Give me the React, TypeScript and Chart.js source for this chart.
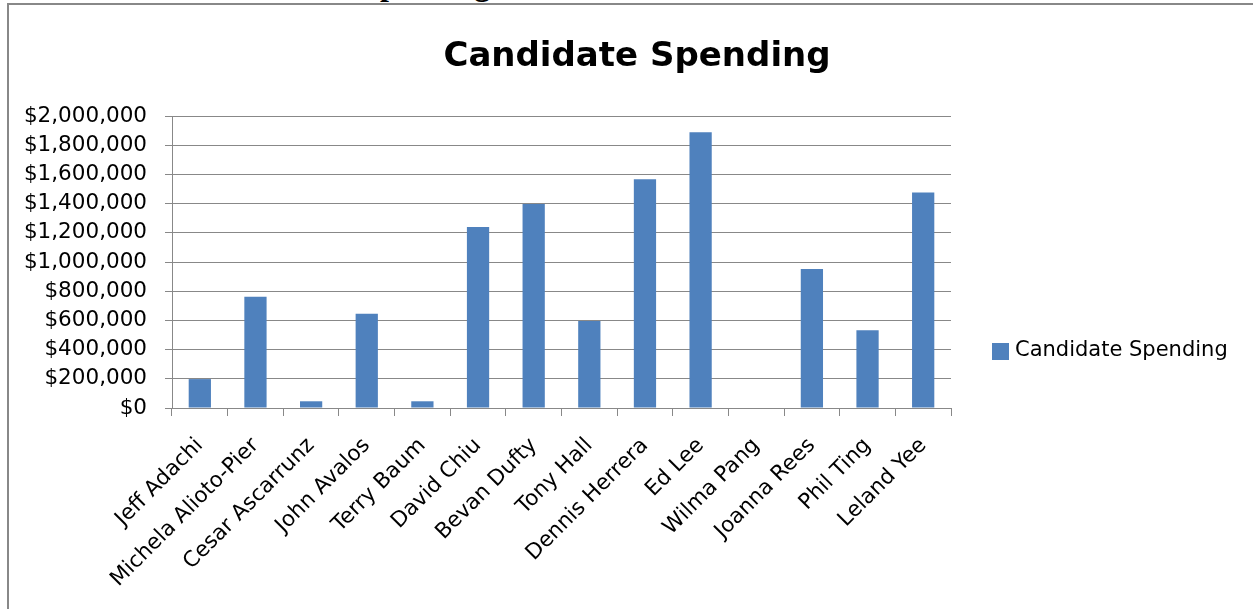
import { useEffect, useRef } from 'react';
import { Chart, registerables } from 'chart.js';

Chart.register(...registerables);

const candidates = [
  'Jeff Adachi',
  'Michela Alioto-Pier',
  'Cesar Ascarrunz',
  'John Avalos',
  'Terry Baum',
  'David Chiu',
  'Bevan Dufty',
  'Tony Hall',
  'Dennis Herrera',
  'Ed Lee',
  'Wilma Pang',
  'Joanna Rees',
  'Phil Ting',
  'Leland Yee',
];

const spending = [
  198000, 762000, 46000, 645000, 46000, 1240000, 1398000, 596000, 1566000, 1888000, 0, 952000,
  533000, 1476000,
];

const seriesLabel = 'Candidate Spending';
const chartTitle = 'Candidate Spending';
const pageHeading = 'Candidate Spending';
const yMin = 0;
const yMax = 2000000;
const yStep = 200000;

const FONT = '"DejaVu Sans", sans-serif';
const BAR_COLOR = '#4F81BD';
const GRID_COLOR = '#888888';

export default function App() {
  const canvasRef = useRef<HTMLCanvasElement>(null);

  useEffect(() => {
    const canvas = canvasRef.current;
    if (!canvas) return;

    const titleLegendPlugin = {
      id: 'titleLegend',
      afterDraw(chart: any) {
        const ctx = chart.ctx as CanvasRenderingContext2D;
        const area = chart.chartArea;
        ctx.save();
        // title
        ctx.fillStyle = '#000';
        ctx.font = `bold 34px ${FONT}`;
        ctx.textAlign = 'center';
        ctx.textBaseline = 'alphabetic';
        ctx.fillText(chartTitle, 637, area.top - 50);
        // legend
        const ds = chart.data.datasets[0];
        const lx = area.right + 41;
        const ly = 351;
        ctx.fillStyle = ds.backgroundColor;
        ctx.fillRect(lx, ly - 8, 17, 17);
        ctx.fillStyle = '#000';
        ctx.font = `21px ${FONT}`;
        ctx.textAlign = 'left';
        ctx.textBaseline = 'middle';
        ctx.fillText(ds.label, lx + 23, ly);
        ctx.restore();
      },
    };

    const chart = new Chart(canvas, {
      type: 'bar',
      data: {
        labels: candidates,
        datasets: [
          {
            label: seriesLabel,
            data: spending,
            backgroundColor: BAR_COLOR,
            borderWidth: 0,
            categoryPercentage: 1,
            barPercentage: 0.4,
          },
        ],
      },
      options: {
        animation: false,
        responsive: false,
        maintainAspectRatio: false,
        devicePixelRatio: 1,
        layout: { padding: { left: 0, top: 116, right: 302, bottom: 0 } },
        plugins: {
          legend: { display: false },
          title: { display: false },
          tooltip: { enabled: false },
        },
        scales: {
          x: {
            offset: true,
            grid: {
              offset: true,
              drawOnChartArea: false,
              drawTicks: true,
              tickLength: 8,
              color: GRID_COLOR,
              lineWidth: 1,
            },
            border: { display: true, color: GRID_COLOR, width: 1 },
            ticks: {
              autoSkip: false,
              maxRotation: 45,
              minRotation: 45,
              padding: 17,
              color: '#000',
              font: { family: FONT, size: 21.5 },
            },
            afterFit(scale: any) {
              scale.height = 201;
            },
          },
          y: {
            min: yMin,
            max: yMax,
            grid: {
              color: GRID_COLOR,
              lineWidth: 1,
              drawTicks: true,
              tickLength: 7,
            },
            border: { display: true, color: GRID_COLOR, width: 1 },
            ticks: {
              stepSize: yStep,
              padding: 18,
              color: '#000',
              font: { family: FONT, size: 21.5 },
              callback: (v: any) => '$' + Number(v).toLocaleString('en-US'),
            },
            afterFit(scale: any) {
              scale.width = 172;
            },
          },
        },
      },
      plugins: [titleLegendPlugin],
    });

    return () => chart.destroy();
  }, []);

  return (
    <div
      style={{
        position: 'fixed',
        left: 0,
        top: 0,
        width: 1253,
        height: 609,
        overflow: 'hidden',
        background: '#fff',
      }}
    >
      <div
        style={{
          position: 'absolute',
          left: 212,
          top: -32,
          fontFamily: '"Liberation Serif", serif',
          fontWeight: 'bold',
          fontSize: 32,
          lineHeight: '32px',
          whiteSpace: 'nowrap',
          color: '#000',
        }}
      >
        {pageHeading}
      </div>
      <div
        style={{
          position: 'absolute',
          left: 7,
          top: 3,
          width: 1400,
          height: 800,
          borderLeft: '2px solid #888',
          borderTop: '2px solid #888',
          background: '#fff',
        }}
      />
      <canvas
        ref={canvasRef}
        width={1253}
        height={609}
        style={{ position: 'absolute', left: 0, top: 0, width: 1253, height: 609, display: 'block' }}
      />
    </div>
  );
}
